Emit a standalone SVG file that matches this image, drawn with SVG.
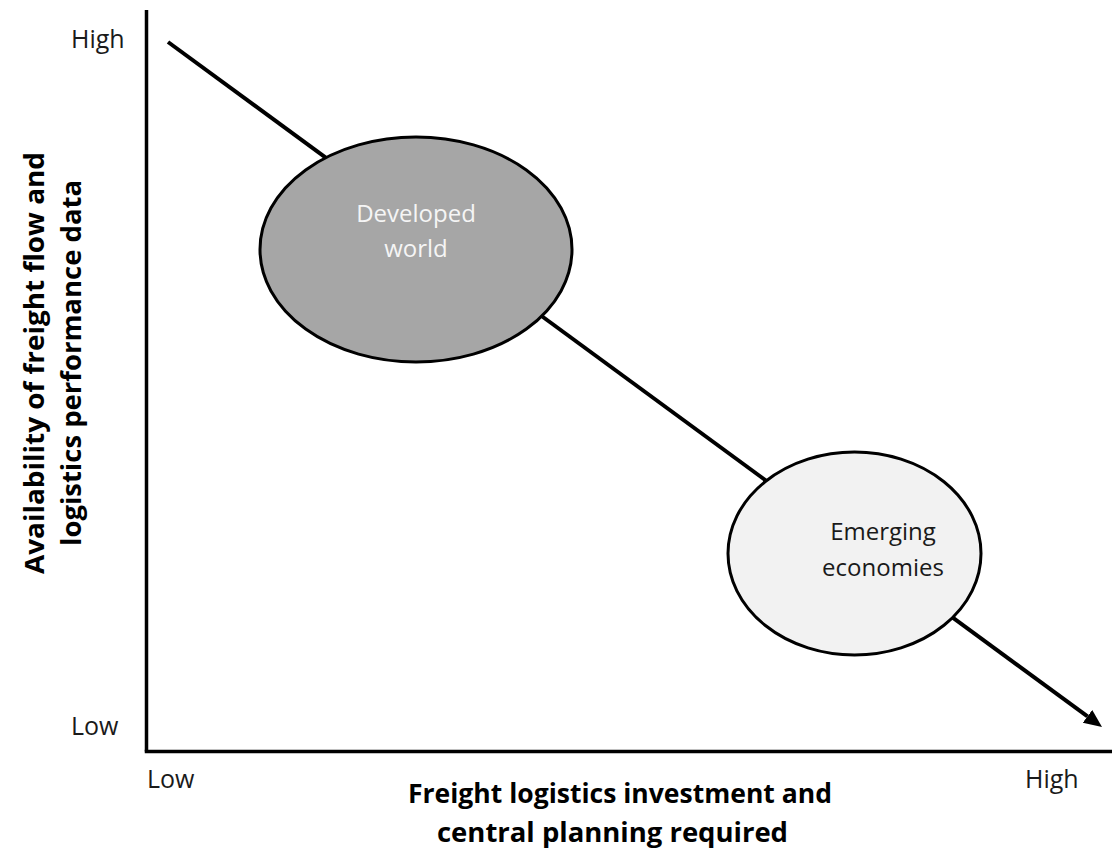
<svg xmlns="http://www.w3.org/2000/svg" width="1112" height="855" viewBox="0 0 1112 855">
  <defs>
    <style>
      .axis { stroke: #000; stroke-width: 3.5; fill: none; }
      .trend { stroke: #000; stroke-width: 4; fill: none; }
      .bubble { stroke: #000; stroke-width: 3; }
      .tick { font-family: "Open Sans", "Liberation Sans", sans-serif; font-size: 25px; fill: #1a1a1a; }
      .title { font-family: "Open Sans", "Liberation Sans", sans-serif; font-size: 26px; font-weight: bold; fill: #000; text-anchor: middle; }
      .label { font-family: "Open Sans", "Liberation Sans", sans-serif; font-size: 24px; text-anchor: middle; }
    </style>
    <marker id="arrowhead" markerUnits="userSpaceOnUse" markerWidth="20" markerHeight="18" refX="0" refY="8" orient="auto">
      <path d="M0,0 L18,8 L0,16 Z" fill="#000"/>
    </marker>
  </defs>

  <rect width="1112" height="855" fill="#fff"/>

  <!-- axes -->
  <g id="axes">
    <line class="axis" x1="146.5" y1="10" x2="146.5" y2="751.5"/>
    <line class="axis" x1="144.75" y1="751.5" x2="1112" y2="751.5"/>
  </g>

  <!-- trend connector running from top-left to bottom-right -->
  <g id="connectors">
    <line class="trend" x1="168" y1="42" x2="1087.5" y2="716.4" marker-end="url(#arrowhead)"/>
  </g>

  <g id="developed-world">
    <ellipse class="bubble" cx="416" cy="249.5" rx="156" ry="112.5" fill="#a6a6a6"/>
    <text class="label" fill="#f5f5f5" x="416" y="222">Developed</text>
    <text class="label" fill="#f5f5f5" x="416" y="257">world</text>
  </g>

  <g id="emerging-economies">
    <ellipse class="bubble" cx="854.5" cy="553.5" rx="126.5" ry="101.5" fill="#f2f2f2"/>
    <text class="label" fill="#1a1a1a" x="883" y="540">Emerging</text>
    <text class="label" fill="#1a1a1a" x="883" y="576">economies</text>
  </g>

  <!-- tick labels -->
  <g id="ticks">
    <text class="tick" x="71" y="48">High</text>
    <text class="tick" x="71" y="735">Low</text>
    <text class="tick" x="147" y="788">Low</text>
    <text class="tick" x="1025" y="788">High</text>
  </g>

  <!-- axis titles -->
  <g id="x-title">
    <text class="title" x="620" y="803" textLength="424" lengthAdjust="spacingAndGlyphs">Freight logistics investment and</text>
    <text class="title" x="612.5" y="842" textLength="351" lengthAdjust="spacingAndGlyphs">central planning required</text>
  </g>
  <g id="y-title">
    <text class="title" transform="translate(44,363) rotate(-90)" textLength="422" lengthAdjust="spacingAndGlyphs">Availability of freight flow and</text>
    <text class="title" transform="translate(81,363) rotate(-90)" textLength="366" lengthAdjust="spacingAndGlyphs">logistics performance data</text>
  </g>
</svg>
